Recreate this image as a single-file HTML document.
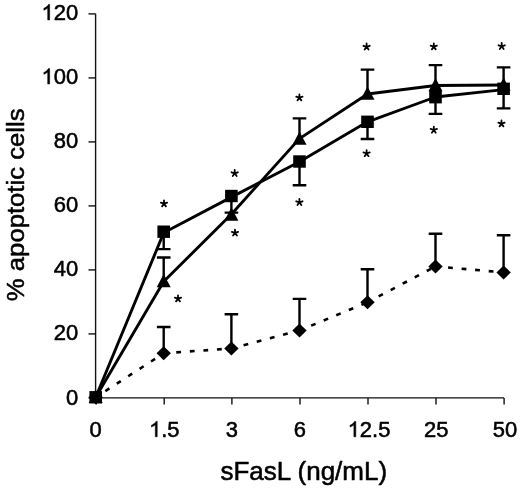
<!DOCTYPE html>
<html><head><meta charset="utf-8"><title>chart</title>
<style>
html,body{margin:0;padding:0;background:#fff;}
body{width:520px;height:488px;overflow:hidden;}
svg{display:block;will-change:transform;}
text{font-family:"Liberation Sans",sans-serif;fill:#000;stroke:#000;stroke-width:0.55px;stroke-linejoin:round;}
.t{font-size:22.3px;}
.g1{fill:#000;stroke:#000;stroke-width:50;stroke-linejoin:round;}
.a{font-size:26px;stroke-width:0.55px;}
</style></head><body>
<svg width="520" height="488" viewBox="0 0 520 488">
<rect width="520" height="488" fill="#fff"/>

<g stroke="#111" stroke-width="1.4" fill="none">
<path d="M95.6 13.8V397.9H504.1"/>
<path d="M88.5 397.9H95.6"/>
<path d="M88.5 333.9H95.6"/>
<path d="M88.5 269.9H95.6"/>
<path d="M88.5 205.9H95.6"/>
<path d="M88.5 141.9H95.6"/>
<path d="M88.5 77.9H95.6"/>
<path d="M88.5 13.9H95.6"/>
<path d="M96.2 397.9V404.4"/>
<path d="M164.2 397.9V404.4"/>
<path d="M231.9 397.9V404.4"/>
<path d="M300.0 397.9V404.4"/>
<path d="M368.0 397.9V404.4"/>
<path d="M436.0 397.9V404.4"/>
<path d="M504.1 397.9V404.4"/>
</g>
<text class="t" transform="translate(65.89 404.5) scale(0.985 1)">0</text>
<text class="t" transform="translate(53.67 340.4) scale(0.985 1)">20</text>
<text class="t" transform="translate(53.67 276.3) scale(0.985 1)">40</text>
<text class="t" transform="translate(53.67 212.2) scale(0.985 1)">60</text>
<text class="t" transform="translate(53.67 148.1) scale(0.985 1)">80</text>
<path class="g1" transform="translate(41.46 84.0) scale(0.01073 0.01045)" d="M763 0H583V-1147Q518 -1085 412.5 -1023Q307 -961 223 -930V-1104Q374 -1175 487 -1276Q600 -1377 647 -1472H763Z"/>
<text class="t" transform="translate(53.67 84.0) scale(0.985 1)">00</text>
<path class="g1" transform="translate(41.46 19.9) scale(0.01073 0.01045)" d="M763 0H583V-1147Q518 -1085 412.5 -1023Q307 -961 223 -930V-1104Q374 -1175 487 -1276Q600 -1377 647 -1472H763Z"/>
<text class="t" transform="translate(53.67 19.9) scale(0.985 1)">20</text>
<text class="t" transform="translate(89.59 436.8) scale(0.985 1)">0</text>
<path class="g1" transform="translate(149.03 436.8) scale(0.01073 0.01045)" d="M763 0H583V-1147Q518 -1085 412.5 -1023Q307 -961 223 -930V-1104Q374 -1175 487 -1276Q600 -1377 647 -1472H763Z"/>
<text class="t" transform="translate(161.25 436.8) scale(0.985 1)">.5</text>
<text class="t" transform="translate(225.79 436.8) scale(0.985 1)">3</text>
<text class="t" transform="translate(293.79 436.8) scale(0.985 1)">6</text>
<path class="g1" transform="translate(347.63 436.8) scale(0.01073 0.01045)" d="M763 0H583V-1147Q518 -1085 412.5 -1023Q307 -961 223 -930V-1104Q374 -1175 487 -1276Q600 -1377 647 -1472H763Z"/>
<text class="t" transform="translate(359.84 436.8) scale(0.985 1)">2.5</text>
<text class="t" transform="translate(423.99 436.8) scale(0.985 1)">25</text>
<text class="t" transform="translate(492.79 436.8) scale(0.985 1)">50</text>
<text class="a" x="303.8" y="479.6" text-anchor="middle">sFasL (ng/mL)</text>
<text class="a" transform="translate(23.7 204.8) rotate(-90) scale(0.988 0.955)" text-anchor="middle">% apoptotic cells</text>
<g stroke="#000" stroke-width="2.4" fill="none">
<path d="M163.7 231.7V249.1M156.9 249.1H170.5"/>
<path d="M163.7 281.7V257.5M156.9 257.5H170.5"/>
<path d="M163.7 353.3V327.0M156.9 327.0H170.5"/>
<path d="M231.4 196.0V212.6M224.6 212.6H238.2"/>
<path d="M231.4 348.4V314.2M224.6 314.2H238.2"/>
<path d="M299.5 161.5V185.2M292.7 185.2H306.3"/>
<path d="M299.5 139.2V118.4M292.7 118.4H306.3"/>
<path d="M299.5 330.5V298.9M292.7 298.9H306.3"/>
<path d="M367.5 121.8V139.0M360.7 139.0H374.3"/>
<path d="M367.5 94.2V69.6M360.7 69.6H374.3"/>
<path d="M367.5 302.3V269.2M360.7 269.2H374.3"/>
<path d="M435.5 97.2V113.9M428.7 113.9H442.3"/>
<path d="M435.5 85.6V65.1M428.7 65.1H442.3"/>
<path d="M435.5 266.4V233.8M428.7 233.8H442.3"/>
<path d="M503.6 88.8V108.4M496.8 108.4H510.4"/>
<path d="M503.6 85.2V67.4M496.8 67.4H510.4"/>
<path d="M503.6 272.4V235.2M496.8 235.2H510.4"/>
</g>
<polyline points="95.7,397.3 163.7,232.8 231.4,197.1 299.5,161.7 367.5,121.8 435.5,97.0 503.6,89.6" fill="none" stroke="#000" stroke-width="2.9" stroke-linejoin="round"/>
<polyline points="95.7,397.3 163.7,281.5 231.4,214.3 299.5,138.6 367.5,94.0 435.5,85.5 503.6,85.0" fill="none" stroke="#000" stroke-width="2.9" stroke-linejoin="round"/>
<g fill="none" stroke="#000" stroke-width="2.6" stroke-dasharray="4.8 8.8">
<path d="M95.7 397.3L163.7 353.3" stroke-dashoffset="2.1"/>
<path d="M163.7 353.3L231.4 348.4" stroke-dashoffset="1.0"/>
<path d="M231.4 348.4L299.5 330.5" stroke-dashoffset="1.0"/>
<path d="M299.5 330.5L367.5 302.3" stroke-dashoffset="1.0"/>
<path d="M367.5 302.3L435.5 266.4" stroke-dashoffset="1.0"/>
<path d="M435.5 266.4L503.6 272.4" stroke-dashoffset="1.0"/>
</g>
<path d="M95.7 390.3L102.9 397.3L95.7 404.3L88.5 397.3Z"/>
<path d="M163.7 346.3L170.9 353.3L163.7 360.3L156.5 353.3Z"/>
<path d="M231.4 341.4L238.6 348.4L231.4 355.4L224.2 348.4Z"/>
<path d="M299.5 323.5L306.7 330.5L299.5 337.5L292.3 330.5Z"/>
<path d="M367.5 295.3L374.7 302.3L367.5 309.3L360.3 302.3Z"/>
<path d="M435.5 259.4L442.7 266.4L435.5 273.4L428.3 266.4Z"/>
<path d="M503.6 265.4L510.8 272.4L503.6 279.4L496.4 272.4Z"/>
<path d="M95.7 389.7L102.7 402.9H88.7Z"/>
<path d="M163.7 274.1L170.7 287.3H156.7Z"/>
<path d="M231.4 207.6L238.4 220.8H224.4Z"/>
<path d="M299.5 131.6L306.5 144.8H292.5Z"/>
<path d="M367.5 86.6L374.5 99.8H360.5Z"/>
<path d="M435.5 78.0L442.5 91.2H428.5Z"/>
<path d="M503.6 77.6L510.6 90.8H496.6Z"/>
<rect x="89.4" y="391.1" width="12.6" height="12.4"/>
<rect x="157.4" y="225.5" width="12.6" height="12.4"/>
<rect x="225.1" y="189.8" width="12.6" height="12.4"/>
<rect x="293.2" y="155.3" width="12.6" height="12.4"/>
<rect x="361.2" y="115.6" width="12.6" height="12.4"/>
<rect x="429.2" y="91.0" width="12.6" height="12.4"/>
<rect x="497.3" y="82.6" width="12.6" height="12.4"/>
<g stroke="#000" stroke-width="1.8" stroke-linecap="round" fill="none">
<path d="M164.0 203.7L164.00 200.40M164.0 203.7L167.14 202.68M164.0 203.7L165.94 206.37M164.0 203.7L162.06 206.37M164.0 203.7L160.86 202.68"/>
<path d="M178.0 298.7L178.00 295.40M178.0 298.7L181.14 297.68M178.0 298.7L179.94 301.37M178.0 298.7L176.06 301.37M178.0 298.7L174.86 297.68"/>
<path d="M234.7 173.3L234.70 170.00M234.7 173.3L237.84 172.28M234.7 173.3L236.64 175.97M234.7 173.3L232.76 175.97M234.7 173.3L231.56 172.28"/>
<path d="M235.0 232.9L235.00 229.60M235.0 232.9L238.14 231.88M235.0 232.9L236.94 235.57M235.0 232.9L233.06 235.57M235.0 232.9L231.86 231.88"/>
<path d="M299.4 97.7L299.40 94.40M299.4 97.7L302.54 96.68M299.4 97.7L301.34 100.37M299.4 97.7L297.46 100.37M299.4 97.7L296.26 96.68"/>
<path d="M299.4 202.3L299.40 199.00M299.4 202.3L302.54 201.28M299.4 202.3L301.34 204.97M299.4 202.3L297.46 204.97M299.4 202.3L296.26 201.28"/>
<path d="M366.6 46.8L366.60 43.50M366.6 46.8L369.74 45.78M366.6 46.8L368.54 49.47M366.6 46.8L364.66 49.47M366.6 46.8L363.46 45.78"/>
<path d="M366.6 153.5L366.60 150.20M366.6 153.5L369.74 152.48M366.6 153.5L368.54 156.17M366.6 153.5L364.66 156.17M366.6 153.5L363.46 152.48"/>
<path d="M433.8 46.7L433.80 43.40M433.8 46.7L436.94 45.68M433.8 46.7L435.74 49.37M433.8 46.7L431.86 49.37M433.8 46.7L430.66 45.68"/>
<path d="M433.8 130.0L433.80 126.70M433.8 130.0L436.94 128.98M433.8 130.0L435.74 132.67M433.8 130.0L431.86 132.67M433.8 130.0L430.66 128.98"/>
<path d="M501.7 46.3L501.70 43.00M501.7 46.3L504.84 45.28M501.7 46.3L503.64 48.97M501.7 46.3L499.76 48.97M501.7 46.3L498.56 45.28"/>
<path d="M501.5 123.7L501.50 120.40M501.5 123.7L504.64 122.68M501.5 123.7L503.44 126.37M501.5 123.7L499.56 126.37M501.5 123.7L498.36 122.68"/>
</g>
</svg></body></html>
